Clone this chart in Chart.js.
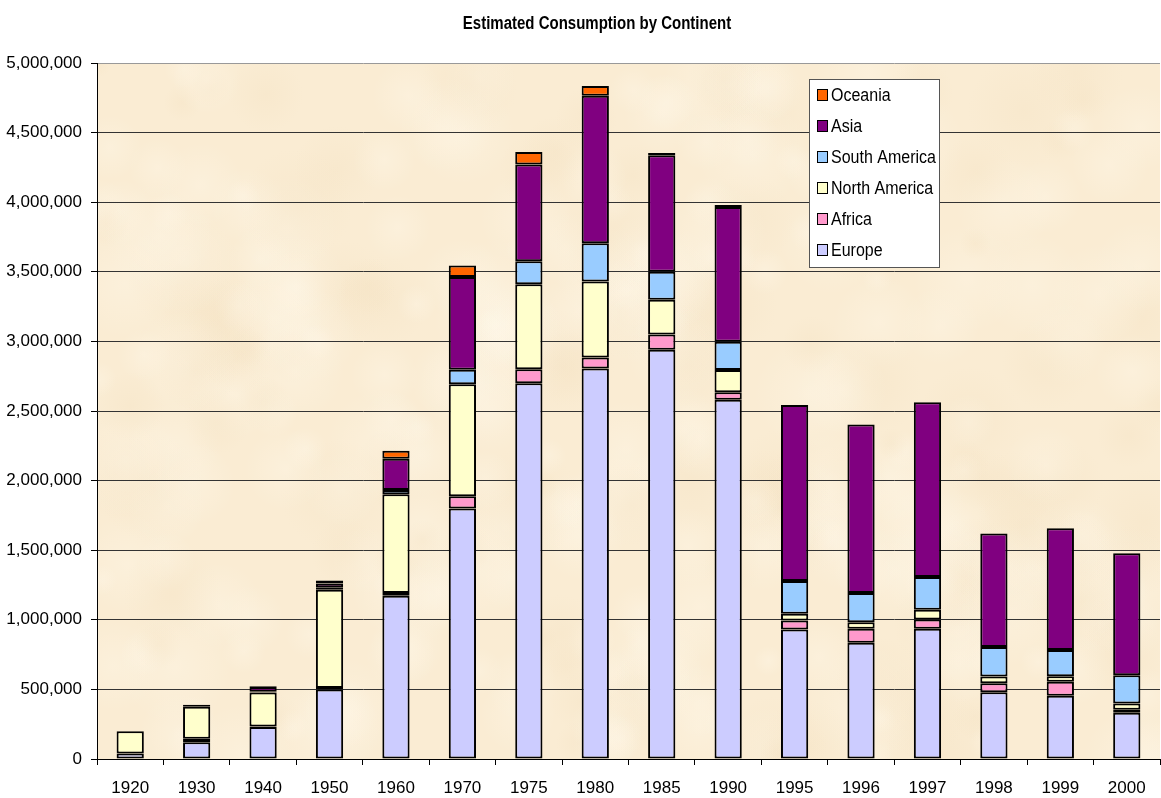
<!DOCTYPE html>
<html>
<head>
<meta charset="utf-8">
<script src="https://cdn.jsdelivr.net/npm/chart.js@4/dist/chart.umd.min.js"></script>
<style>
  html, body { margin: 0; padding: 0; background: #fff; }
  canvas { display: block; }
</style>
</head>
<body>
<canvas id="chart" width="1161" height="798"></canvas>
<script>
// Chart data
const years = ["1920", "1930", "1940", "1950", "1960", "1970", "1975", "1980",
  "1985", "1990", "1995", "1996", "1997", "1998", "1999", "2000"];

const europe = [40000, 120000, 230000, 500000, 1172000, 1800000, 2700000, 2805000,
  2940000, 2580000, 930000, 835000, 935000, 480000, 455000, 332000];
const africa = [0, 25000, 3000, 10000, 20000, 88000, 100000, 80000,
  110000, 55000, 65000, 100000, 68000, 65000, 100000, 22000];
const northAmerica = [160000, 230000, 245000, 705000, 710000, 805000, 610000, 545000,
  250000, 160000, 48000, 48000, 70000, 48000, 40000, 45000];
const southAmerica = [0, 5000, 5000, 15000, 30000, 103000, 165000, 275000,
  200000, 202000, 235000, 210000, 235000, 212000, 188000, 202000];
const asia = [0, 10000, 35000, 30000, 225000, 667000, 695000, 1060000,
  838000, 968000, 1265000, 1210000, 1255000, 815000, 875000, 877000];
const oceania = [0, 0, 5000, 22000, 57000, 83000, 90000, 70000,
  15000, 15000, 0, 0, 0, 0, 0, 0];

const chartTitle = "Estimated Consumption by Continent";
const yTicksMax = 5000000;
const yTickStep = 500000;

const FONT = "'Liberation Sans', Arial, Helvetica, sans-serif";

// parchment-like fill for the plot area (deterministic soft blotches)
let parchment = null;
function makeParchment(w, h) {
  const c = document.createElement("canvas");
  c.width = w;
  c.height = h;
  const g = c.getContext("2d");
  g.fillStyle = "#FAECD3";
  g.fillRect(0, 0, w, h);
  for (let i = 0; i < 320; i++) {
    const hx = Math.abs(Math.sin(i * 12.9898) * 43758.5453) % 1;
    const hy = Math.abs(Math.sin(i * 78.233) * 12345.6789) % 1;
    const hr = Math.abs(Math.sin(i * 39.425) * 24634.634) % 1;
    const x = hx * w;
    const y = hy * h;
    const r = 15 + hr * 45;
    const grad = g.createRadialGradient(x, y, 0, x, y, r);
    if (i % 3 === 0) {
      grad.addColorStop(0, "rgba(242,222,188,0.25)");
      grad.addColorStop(1, "rgba(242,222,188,0)");
    } else {
      grad.addColorStop(0, "rgba(255,248,234,0.35)");
      grad.addColorStop(1, "rgba(255,248,234,0)");
    }
    g.fillStyle = grad;
    g.fillRect(x - r, y - r, r * 2, r * 2);
  }
  return c;
}

const plotBackground = {
  id: "plotBackground",
  beforeDraw(chart) {
    const { ctx, chartArea } = chart;
    const w = Math.round(chartArea.right - chartArea.left);
    const h = Math.round(chartArea.bottom - chartArea.top);
    if (!parchment || parchment.width !== w || parchment.height !== h) {
      parchment = makeParchment(w, h);
    }
    ctx.save();
    ctx.fillStyle = "#fff";
    ctx.fillRect(0, 0, chart.width, chart.height);
    ctx.drawImage(parchment, chartArea.left, chartArea.top);
    ctx.restore();
  },
};

// title is drawn by hand so it can sit where the original one does
const titleText = {
  id: "titleText",
  afterDraw(chart) {
    const ctx = chart.ctx;
    ctx.save();
    ctx.translate(597, 24);
    ctx.scale(1, 1.2);
    ctx.font = "bold 15px " + FONT;
    ctx.fillStyle = "#000";
    ctx.textAlign = "center";
    ctx.textBaseline = "middle";
    ctx.fillText(chartTitle, 0, 0);
    ctx.restore();
  },
};

// boxed legend inside the plot, listed top-down in reverse stack order
const boxLegend = {
  id: "boxLegend",
  afterDraw(chart) {
    const ctx = chart.ctx;
    const left = 809.5, top = 79.5, width = 130, height = 188;
    ctx.save();
    ctx.fillStyle = "#fff";
    ctx.fillRect(left, top, width, height);
    ctx.strokeStyle = "#555";
    ctx.lineWidth = 1;
    ctx.strokeRect(left, top, width, height);

    const items = chart.data.datasets.slice().reverse();
    items.forEach((ds, i) => {
      const y = 95 + i * 31;
      ctx.fillStyle = ds.backgroundColor;
      ctx.fillRect(817, y - 6, 11, 12);
      ctx.strokeStyle = "#000";
      ctx.strokeRect(817.5, y - 5.5, 10, 11);
      ctx.save();
      ctx.translate(831, y + 1);
      ctx.scale(1, 1.13);
      ctx.font = "16px " + FONT;
      ctx.textBaseline = "middle";
      ctx.fillStyle = "#000";
      ctx.fillText(ds.label, 0, 0);
      ctx.restore();
    });
    ctx.restore();
  },
};

function series(label, data, color) {
  return {
    label,
    data,
    backgroundColor: color,
    borderColor: "#000",
    borderWidth: 2,
    borderSkipped: false,
    categoryPercentage: 1,
    barPercentage: 0.41,
  };
}

new Chart(document.getElementById("chart").getContext("2d"), {
  type: "bar",
  data: {
    labels: years,
    datasets: [
      series("Europe", europe, "#CCCCFF"),
      series("Africa", africa, "#FF99CC"),
      series("North America", northAmerica, "#FFFFCC"),
      series("South America", southAmerica, "#99CCFF"),
      series("Asia", asia, "#800080"),
      series("Oceania", oceania, "#FF6600"),
    ],
  },
  options: {
    responsive: false,
    animation: false,
    devicePixelRatio: 1,
    layout: { padding: { left: 0, right: 1, top: 63, bottom: 0 } },
    plugins: {
      legend: { display: false },
      tooltip: { enabled: false },
      title: { display: false },
    },
    scales: {
      x: {
        stacked: true,
        afterFit(scale) { scale.height = 39; },
        grid: {
          display: true,
          drawOnChartArea: false,
          drawTicks: true,
          tickLength: 6,
          tickColor: "#000",
          offset: true,
        },
        border: { display: true, color: "#000", width: 1 },
        ticks: {
          color: "#000",
          font: { family: FONT, size: 17 },
          padding: 13,
          maxRotation: 0,
          autoSkip: false,
        },
      },
      y: {
        stacked: true,
        min: 0,
        max: yTicksMax,
        afterFit(scale) { scale.width = 97; },
        grid: {
          color: (c) => (c.tick && c.tick.value === yTicksMax ? "#999" : "#333"),
          lineWidth: 1,
          tickLength: 6,
          tickColor: "#000",
        },
        border: { display: true, color: "#000", width: 1 },
        ticks: {
          stepSize: yTickStep,
          color: "#000",
          font: { family: FONT, size: 17 },
          padding: 9,
          callback: (v) => Number(v).toLocaleString("en-US"),
        },
      },
    },
  },
  plugins: [plotBackground, titleText, boxLegend],
});
</script>
</body>
</html>
